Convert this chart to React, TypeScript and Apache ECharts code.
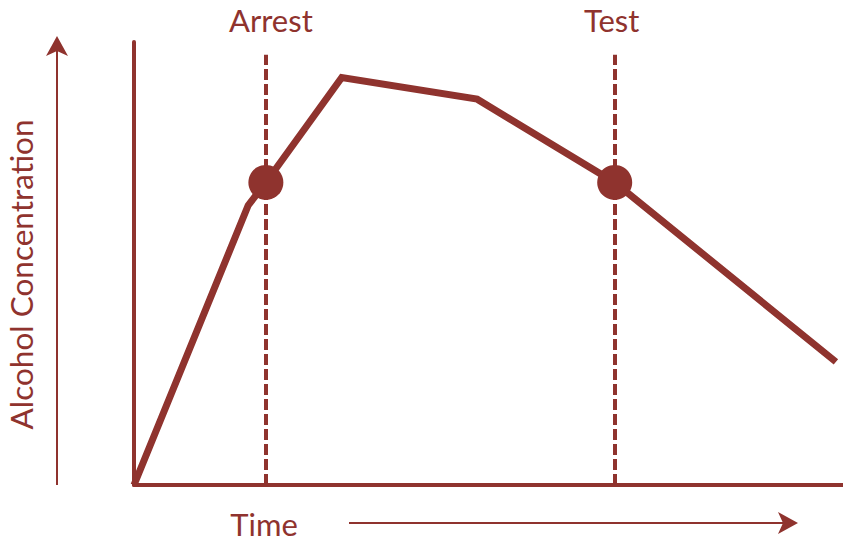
import React, { useEffect, useRef } from "react";
import * as echarts from "echarts";

const COLOR = "#8f332e";

// Time (x) and alcohol concentration (y) along the curve
const timeValues = [0, 16.1, 18.6, 29.3, 48.4, 67.8, 99.0];
const concentrationValues = [0, 63.1, 68.3, 92.0, 87.1, 68.3, 27.8];

// Event markers
const eventNames = ["Arrest", "Test"];
const eventTimes = [18.6, 67.8];
const eventConcentrations = [68.3, 68.3];
const eventLabelOffsets = [[5, 0], [-3, 0]];

const X_MAX = 100;
const Y_MAX = 100;
const DASH_TOP = 97.1;

export default function App() {
  const ref = useRef<HTMLDivElement>(null);

  useEffect(() => {
    if (!ref.current) return;
    const chart = echarts.init(ref.current, null, { renderer: "svg" });
    const font = "Lato, 'Open Sans', sans-serif";

    const curve = timeValues.map((t, i) => [t, concentrationValues[i]]);
    const events = eventTimes.map((t, i) => [t, eventConcentrations[i]]);

    chart.setOption({
      animation: false,
      backgroundColor: "#ffffff",
      grid: {
        left: 134,
        right: 0,
        top: 42,
        bottom: 57,
        containLabel: false,
        outerBoundsMode: "none",
      },
      xAxis: {
        type: "value",
        min: 0,
        max: X_MAX,
        axisLine: { show: true, lineStyle: { color: COLOR, width: 4 } },
        axisTick: { show: false },
        axisLabel: { show: false },
        splitLine: { show: false },
      },
      yAxis: {
        type: "value",
        min: 0,
        max: Y_MAX,
        axisLine: { show: true, lineStyle: { color: COLOR, width: 4 } },
        axisTick: { show: false },
        axisLabel: { show: false },
        splitLine: { show: false },
      },
      series: [
        {
          type: "line",
          data: curve,
          symbol: "none",
          lineStyle: { color: COLOR, width: 7, join: "miter" },
          z: 3,
          markLine: {
            silent: true,
            symbol: ["none", "none"],
            lineStyle: { color: COLOR, width: 4, type: [11, 4], opacity: 1 },
            label: {
              show: true,
              position: "end",
              distance: 19,
              color: COLOR,
              fontFamily: font,
              fontSize: 31,
            },
            data: eventTimes.map((t, i) => [
              {
                coord: [t, 0],
                label: { formatter: eventNames[i], offset: eventLabelOffsets[i] },
              },
              { coord: [t, DASH_TOP] },
            ]),
          },
        },
        {
          type: "scatter",
          data: events,
          symbol: "circle",
          symbolSize: 35,
          itemStyle: { color: COLOR, opacity: 1 },
          z: 4,
        },
      ],
      graphic: [
        {
          type: "line",
          shape: { x1: 57, y1: 485, x2: 57, y2: 50 },
          style: { stroke: COLOR, lineWidth: 2 },
        },
        {
          type: "polygon",
          shape: { points: [[57, 36], [68, 56], [57, 51], [46, 56]] },
          style: { fill: COLOR },
        },
        {
          type: "line",
          shape: { x1: 349, y1: 523, x2: 785, y2: 523 },
          style: { stroke: COLOR, lineWidth: 2 },
        },
        {
          type: "polygon",
          shape: { points: [[798, 523], [778, 512], [783, 523], [778, 534]] },
          style: { fill: COLOR },
        },
        {
          type: "text",
          x: 264,
          y: 524,
          style: {
            text: "Time",
            fill: COLOR,
            font: `31px ${font}`,
            textAlign: "center",
            textVerticalAlign: "middle",
          },
        },
        {
          type: "text",
          x: 21,
          y: 274.5,
          rotation: Math.PI / 2,
          style: {
            text: "Alcohol Concentration",
            fill: COLOR,
            font: `31.5px ${font}`,
            textAlign: "center",
            textVerticalAlign: "middle",
          },
        },
      ],
    });

    return () => chart.dispose();
  }, []);

  return (
    <div
      ref={ref}
      style={{ position: "fixed", left: 0, top: 0, width: 843, height: 542 }}
    />
  );
}
